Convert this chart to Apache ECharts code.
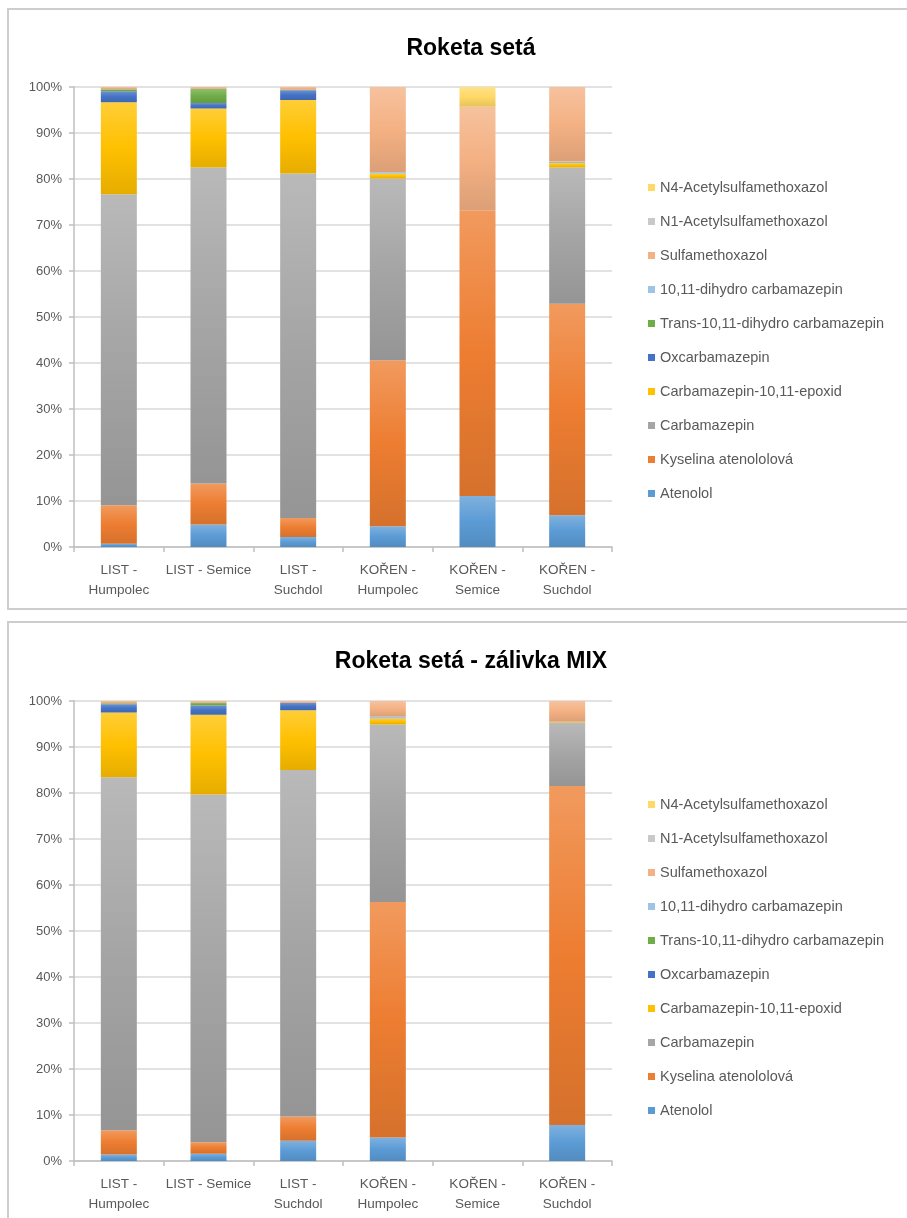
<!DOCTYPE html>
<html>
<head>
<meta charset="utf-8">
<script src="https://cdn.jsdelivr.net/npm/echarts@6/dist/echarts.min.js"></script>
<style>
html,body{margin:0;padding:0;background:#fff;overflow:hidden;}
#c{width:907px;height:1218px;}
</style>
</head>
<body>
<div id="c"></div>
<script>
const categories = ['LIST -\nHumpolec', 'LIST - Semice', 'LIST -\nSuchdol', 'KOŘEN -\nHumpolec', 'KOŘEN -\nSemice', 'KOŘEN -\nSuchdol'];
const yTicks = [0, 10, 20, 30, 40, 50, 60, 70, 80, 90, 100];
const seriesNames = ['Atenolol', 'Kyselina atenololová', 'Carbamazepin', 'Carbamazepin-10,11-epoxid', 'Oxcarbamazepin', 'Trans-10,11-dihydro carbamazepin', '10,11-dihydro carbamazepin', 'Sulfamethoxazol', 'N1-Acetylsulfamethoxazol', 'N4-Acetylsulfamethoxazol'];
const titles = ['Roketa setá', 'Roketa setá - zálivka MIX'];

// Chart 1: Roketa setá (percent share)
const atenolol1  = [0.7, 4.9, 2.2, 4.5, 11.1, 6.9];
const kyselina1  = [8.4, 8.9, 4.1, 36.1, 62.1, 46.0];
const carbamaz1  = [67.6, 68.7, 74.9, 39.5, 0, 29.6];
const epoxid1    = [20.0, 12.8, 16.0, 1.1, 0, 1.0];
const oxcarb1    = [2.4, 1.2, 2.1, 0, 0, 0];
const trans1     = [0.4, 3.1, 0.1, 0, 0, 0];
const dihydro1   = [0, 0, 0, 0.3, 0, 0.3];
const sulfa1     = [0.5, 0.4, 0.6, 18.5, 22.5, 16.2];
const n1acetyl1  = [0, 0, 0, 0, 0, 0];
const n4acetyl1  = [0, 0, 0, 0, 4.3, 0];

// Chart 2: Roketa setá - zálivka MIX (percent share)
const atenolol2  = [1.4, 1.6, 4.4, 5.1, 0, 7.8];
const kyselina2  = [5.3, 2.5, 5.3, 51.2, 0, 73.7];
const carbamaz2  = [76.7, 75.6, 75.3, 38.6, 0, 13.8];
const epoxid2    = [14.1, 17.3, 13.0, 1.3, 0, 0.2];
const oxcarb2    = [1.8, 2.0, 1.6, 0, 0, 0];
const trans2     = [0.2, 0.6, 0, 0, 0, 0];
const dihydro2   = [0, 0, 0, 0.4, 0, 0];
const sulfa2     = [0.5, 0.4, 0.4, 3.4, 0, 4.5];
const n1acetyl2  = [0, 0, 0, 0, 0, 0];
const n4acetyl2  = [0, 0, 0, 0, 0, 0];

const colors = ['#5B9BD5', '#ED7D31', '#A5A5A5', '#FFC000', '#4472C4', '#70AD47', '#9DC3E6', '#F4B183', '#C9C9C9', '#FFD966'];
const data1 = [atenolol1, kyselina1, carbamaz1, epoxid1, oxcarb1, trans1, dihydro1, sulfa1, n1acetyl1, n4acetyl1];
const data2 = [atenolol2, kyselina2, carbamaz2, epoxid2, oxcarb2, trans2, dihydro2, sulfa2, n1acetyl2, n4acetyl2];

function mix(hex, t, target) {
  const n = parseInt(hex.slice(1), 16);
  let r = (n >> 16) & 255, g = (n >> 8) & 255, b = n & 255;
  r = Math.round(r + (target - r) * t); g = Math.round(g + (target - g) * t); b = Math.round(b + (target - b) * t);
  return 'rgb(' + r + ',' + g + ',' + b + ')';
}
function grad(c) {
  return new echarts.graphic.LinearGradient(0, 0, 0, 1, [
    {offset: 0, color: mix(c, 0.22, 255)},
    {offset: 0.5, color: c},
    {offset: 1, color: mix(c, 0.1, 0)}
  ]);
}

const FONT = 'Liberation Sans';
const panels = [{top: 87, titleTop: 32, legendTop: 174}, {top: 701, titleTop: 645, legendTop: 791}];

const grids = [], xAxes = [], yAxes = [], series = [], legends = [], titleOpts = [];
panels.forEach((p, i) => {
  grids.push({left: 74, top: p.top, width: 538, height: 460});
  titleOpts.push({text: titles[i], left: 466, top: p.titleTop, textAlign: 'center',
    textStyle: {fontFamily: FONT, fontSize: 23, fontWeight: 'bold', color: '#000'}});
  xAxes.push({type: 'category', gridIndex: i, data: categories,
    axisLine: {lineStyle: {color: '#bfbfbf', width: 1.5}},
    axisTick: {show: true, length: 5, lineStyle: {color: '#bfbfbf', width: 1.5}},
    axisLabel: {color: '#595959', fontFamily: FONT, fontSize: 13.5, lineHeight: 20, margin: 13, interval: 0}});
  yAxes.push({type: 'value', gridIndex: i, min: yTicks[0], max: yTicks[yTicks.length - 1], interval: 10,
    axisLine: {show: true, lineStyle: {color: '#bfbfbf', width: 1.5}},
    axisTick: {show: true, length: 5, lineStyle: {color: '#bfbfbf', width: 1.5}},
    splitLine: {lineStyle: {color: '#d9d9d9', width: 1.5}},
    axisLabel: {color: '#595959', fontFamily: FONT, fontSize: 13, margin: 12, formatter: '{value}%'}});
  const d = i === 0 ? data1 : data2;
  seriesNames.forEach((name, k) => {
    series.push({name: name, type: 'bar', stack: 's' + i, xAxisIndex: i, yAxisIndex: i,
      barWidth: 36, data: d[k], itemStyle: {color: grad(colors[k])}});
  });
  legends.push({orient: 'vertical', left: 643, top: p.legendTop, itemWidth: 7, itemHeight: 7, itemGap: 17,
    icon: 'rect', selectedMode: false,
    textStyle: {color: '#595959', fontFamily: FONT, fontSize: 14.5, lineHeight: 17},
    data: seriesNames.slice().reverse().map((n) => ({name: n, itemStyle: {color: colors[seriesNames.indexOf(n)]}}))});
});

const chart = echarts.init(document.getElementById('c'), null, {renderer: 'canvas'});
chart.setOption({
  animation: false,
  backgroundColor: '#fff',
  title: titleOpts,
  grid: grids,
  xAxis: xAxes,
  yAxis: yAxes,
  legend: legends,
  series: series,
  graphic: [
    {type: 'rect', shape: {x: 8, y: 9, width: 920, height: 600}, style: {fill: 'none', stroke: '#cdcdcd', lineWidth: 2}},
    {type: 'rect', shape: {x: 8, y: 622, width: 920, height: 620}, style: {fill: 'none', stroke: '#cdcdcd', lineWidth: 2}}
  ]
});
</script>
</body>
</html>
